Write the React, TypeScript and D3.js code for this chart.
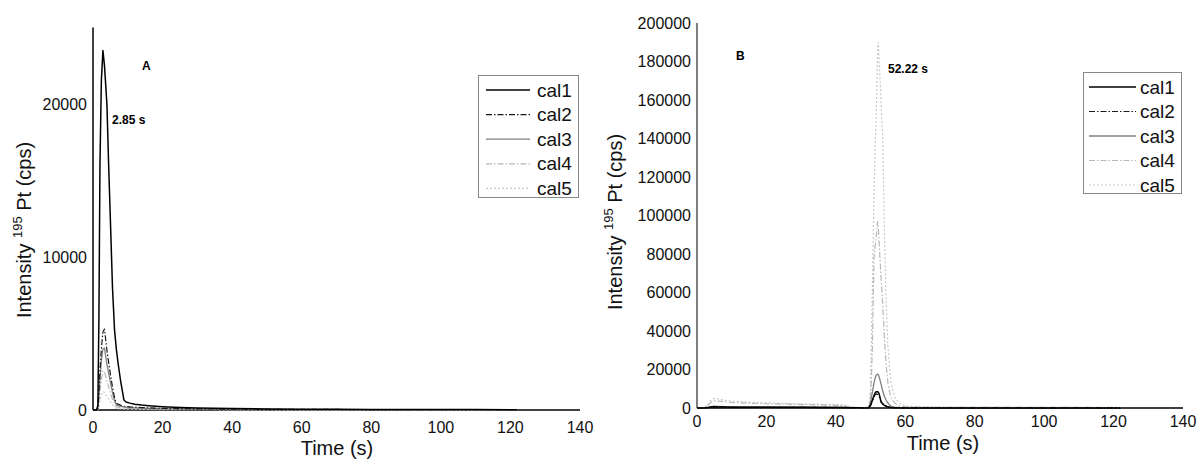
import React, { useEffect, useRef } from "react";
import * as d3 from "d3";

// Panel A - time grid (s) and intensities (cps)
const timeA = [0, 1, 1.4, 1.7, 2.0, 2.4, 2.85, 3.3, 4.0, 4.5, 5.1, 5.6, 6.2, 6.7, 7.2, 7.9, 8.9, 9.5, 10.6, 12, 14, 16, 18, 20, 25, 30, 35, 40, 50, 60, 70, 80, 90, 100, 110, 122];
const cal1A = [0, 0, 300, 6000, 16000, 21500, 23500, 22500, 20000, 16000, 11700, 8000, 5200, 4000, 3070, 1960, 650, 520, 450, 380, 320, 280, 250, 220, 170, 130, 110, 90, 70, 55, 45, 40, 35, 30, 25, 20];
const cal2A = [0, 0, 100, 1200, 2600, 4000, 5100, 5300, 3900, 3100, 2200, 1500, 800, 450, 380, 320, 260, 240, 210, 190, 160, 140, 120, 110, 90, 75, 65, 55, 45, 40, 35, 30, 28, 25, 22, 18];
const cal3A = [0, 0, 80, 900, 2000, 3200, 4000, 4050, 3000, 2400, 1700, 1150, 600, 350, 280, 240, 200, 180, 160, 140, 120, 100, 90, 80, 65, 55, 45, 40, 35, 30, 28, 25, 22, 20, 18, 15];
const cal4A = [0, 0, 50, 500, 1200, 2000, 2550, 2500, 1900, 1500, 1050, 700, 380, 220, 180, 150, 130, 120, 110, 95, 80, 70, 60, 55, 45, 38, 32, 28, 24, 20, 18, 16, 14, 12, 10, 8];
const cal5A = [0, 0, 20, 250, 600, 950, 1200, 1150, 900, 700, 500, 330, 180, 110, 90, 75, 65, 60, 55, 48, 42, 36, 32, 28, 22, 18, 15, 13, 11, 10, 9, 8, 7, 6, 5, 4];

// Panel B
const timeB = [0, 2, 3, 4, 5, 6, 8, 10, 15, 20, 25, 30, 35, 40, 42, 44, 46, 48, 49, 49.5, 50, 50.5, 51, 51.3, 51.6, 52, 52.2, 52.5, 53, 53.5, 54, 54.5, 55, 55.5, 56, 57, 58, 59, 60, 62, 65, 70, 80, 90, 100, 110, 116, 122];
const cal1B = [0, 0, 200, 500, 600, 550, 480, 450, 400, 380, 350, 330, 300, 280, 250, 150, 80, 60, 60, 200, 1500, 4000, 6500, 7800, 8400, 8470, 8200, 7200, 3200, 2000, 1400, 900, 600, 400, 250, 120, 80, 60, 50, 45, 40, 40, 35, 35, 30, 30, 30, 30];
const cal2B = [0, 0, 150, 400, 500, 480, 420, 400, 360, 340, 320, 300, 280, 260, 230, 140, 70, 50, 50, 150, 1200, 3500, 5800, 6800, 7300, 7100, 6900, 6000, 3600, 2200, 1500, 1000, 650, 420, 260, 130, 80, 60, 50, 45, 40, 38, 35, 32, 30, 28, 28, 25];
const cal3B = [0, 0, 300, 700, 900, 850, 750, 700, 600, 550, 500, 450, 420, 400, 350, 200, 100, 80, 100, 500, 3000, 8000, 13000, 15500, 17000, 17600, 17400, 16000, 12500, 8800, 6000, 4000, 2600, 1600, 900, 400, 250, 200, 180, 150, 130, 120, 110, 100, 100, 90, 90, 80];
const cal4B = [0, 0, 1200, 3000, 3800, 3600, 3200, 2900, 2500, 2200, 2000, 1800, 1600, 1400, 1200, 600, 250, 150, 200, 500, 3000, 30000, 78000, 84000, 88000, 96800, 95000, 85000, 68000, 54000, 36000, 22000, 13000, 8000, 5200, 2500, 1300, 800, 600, 450, 400, 350, 320, 300, 300, 280, 260, 220];
const cal5B = [0, 0, 1500, 4000, 5000, 4700, 4000, 3600, 3000, 2700, 2400, 2200, 2000, 1800, 1600, 800, 300, 200, 300, 1000, 10000, 60000, 112000, 135000, 150000, 183000, 190000, 180000, 160000, 140000, 90000, 55000, 32000, 20000, 12000, 5500, 3000, 1800, 1200, 800, 600, 500, 450, 400, 400, 380, 350, 300];

const seriesNames = ["cal1", "cal2", "cal3", "cal4", "cal5"];
const xTicks = [0, 20, 40, 60, 80, 100, 120, 140];
const yTicksA = [0, 10000, 20000];
const yTicksB = [0, 20000, 40000, 60000, 80000, 100000, 120000, 140000, 160000, 180000, 200000];

// line look per series (cal1..cal5)
const styles = [
  { color: "#000000", width: 1.5, dash: null },
  { color: "#1a1a1a", width: 1.2, dash: "6,2,1.5,2" },
  { color: "#808080", width: 1.3, dash: null },
  { color: "#b8b8b8", width: 1.2, dash: "6,2,1.5,2" },
  { color: "#c8c8c8", width: 1.2, dash: "2,2" },
];

const FONT = "'Liberation Sans', Arial, sans-serif";

type Panel = {
  time: number[];
  series: number[][];
  yMax: number;
  yTicks: number[];
  x0: number; x1: number; y0: number; y1: number;
  axisColor: string;
  yTitleX: number; yTitleY: number;
  xLabelY: number; xTitleX: number; xTitleY: number;
  legend: { x: number; y: number; w: number; h: number; first: number; step: number; lx0: number; lx1: number; tx: number };
  letter: { text: string; x: number; y: number };
  peak: { text: string; x: number; y: number };
};

const panels: Panel[] = [
  {
    time: timeA,
    series: [cal1A, cal2A, cal3A, cal4A, cal5A],
    yMax: 25000, yTicks: yTicksA,
    x0: 93, x1: 580, y0: 410, y1: 27.5,
    axisColor: "#000",
    yTitleX: 26, yTitleY: 230,
    xLabelY: 433, xTitleX: 337, xTitleY: 455,
    legend: { x: 478, y: 75, w: 100, h: 122, first: 90, step: 24.6, lx0: 486, lx1: 530, tx: 537 },
    letter: { text: "A", x: 142, y: 70 },
    peak: { text: "2.85 s", x: 112, y: 124 },
  },
  {
    time: timeB,
    series: [cal1B, cal2B, cal3B, cal4B, cal5B],
    yMax: 200000, yTicks: yTicksB,
    x0: 697, x1: 1183, y0: 408, y1: 23,
    axisColor: "#555",
    yTitleX: 617, yTitleY: 222,
    xLabelY: 427, xTitleX: 943, xTitleY: 449.5,
    legend: { x: 1083, y: 72, w: 98, h: 121, first: 87, step: 24.5, lx0: 1089, lx1: 1136, tx: 1140 },
    letter: { text: "B", x: 736, y: 60 },
    peak: { text: "52.22 s", x: 888, y: 72.5 },
  },
];

const App = () => {
  const svgRef = useRef<SVGSVGElement | null>(null);

  useEffect(() => {
    const svg = d3.select(svgRef.current);
    svg.selectAll("*").remove();
    svg.append("rect").attr("width", 1198).attr("height", 460).attr("fill", "#fff");

    panels.forEach((p) => {
      const g = svg.append("g").style("font-family", FONT);
      const x = d3.scaleLinear().domain([0, 140]).range([p.x0, p.x1]);
      const y = d3.scaleLinear().domain([0, p.yMax]).range([p.y0, p.y1]);

      // axes lines (no tick marks in the original)
      g.append("line")
        .attr("x1", p.x0).attr("x2", p.x0)
        .attr("y1", p.y0).attr("y2", p.y1)
        .attr("stroke", p.axisColor).attr("stroke-width", 1.5);
      g.append("line")
        .attr("x1", p.x0).attr("x2", p.x1)
        .attr("y1", p.y0).attr("y2", p.y0)
        .attr("stroke", "#000").attr("stroke-width", 1.5);

      g.selectAll(".yl")
        .data(p.yTicks)
        .join("text")
        .attr("x", p.x0 - 6)
        .attr("y", (d) => y(d) + 5.8)
        .attr("text-anchor", "end")
        .attr("font-size", 16)
        .attr("fill", "#111")
        .text((d) => String(d));

      g.selectAll(".xl")
        .data(xTicks)
        .join("text")
        .attr("x", (d) => x(d))
        .attr("y", p.xLabelY)
        .attr("text-anchor", "middle")
        .attr("font-size", 16)
        .attr("fill", "#111")
        .text((d) => String(d));

      g.append("text")
        .attr("x", p.xTitleX).attr("y", p.xTitleY)
        .attr("text-anchor", "middle")
        .attr("font-size", 20)
        .attr("fill", "#111")
        .text("Time (s)");

      const yt = g.append("text")
        .attr("transform", `translate(${p.yTitleX},${p.yTitleY}) rotate(-90)`)
        .attr("text-anchor", "middle")
        .attr("dominant-baseline", "middle")
        .attr("font-size", 20)
        .attr("fill", "#111");
      yt.append("tspan").text("Intensity ");
      yt.append("tspan").attr("font-size", 13).attr("dy", -7).text("195");
      yt.append("tspan").attr("dy", 7).text(" Pt (cps)");

      // data lines, lightest first so cal1 sits on top
      const line = d3.line<number>()
        .x((_, i) => x(p.time[i]))
        .y((d) => y(d));
      for (let k = p.series.length - 1; k >= 0; k--) {
        const s = styles[k];
        g.append("path")
          .datum(p.series[k])
          .attr("d", line)
          .attr("fill", "none")
          .attr("stroke", s.color)
          .attr("stroke-width", s.width)
          .attr("stroke-dasharray", s.dash)
          .attr("stroke-linejoin", "round");
      }

      // legend
      const L = p.legend;
      g.append("rect")
        .attr("x", L.x + 0.5).attr("y", L.y + 0.5)
        .attr("width", L.w).attr("height", L.h)
        .attr("fill", "#fff").attr("stroke", "#888").attr("stroke-width", 1);
      seriesNames.forEach((name, i) => {
        const cy = L.first + i * L.step;
        const s = styles[i];
        g.append("line")
          .attr("x1", L.lx0).attr("x2", L.lx1)
          .attr("y1", cy).attr("y2", cy)
          .attr("stroke", s.color)
          .attr("stroke-width", s.width)
          .attr("stroke-dasharray", s.dash);
        g.append("text")
          .attr("x", L.tx).attr("y", cy + 6.5)
          .attr("font-size", 19)
          .attr("fill", "#111")
          .text(name);
      });

      g.append("text")
        .attr("x", p.letter.x).attr("y", p.letter.y)
        .attr("font-size", 12).attr("font-weight", "bold")
        .text(p.letter.text);
      g.append("text")
        .attr("x", p.peak.x).attr("y", p.peak.y)
        .attr("font-size", 12).attr("font-weight", "bold")
        .text(p.peak.text);
    });
  }, []);

  return (
    <svg
      ref={svgRef}
      width={1198}
      height={460}
      style={{ position: "absolute", left: 0, top: 0, display: "block" }}
    ></svg>
  );
};

export default App;
